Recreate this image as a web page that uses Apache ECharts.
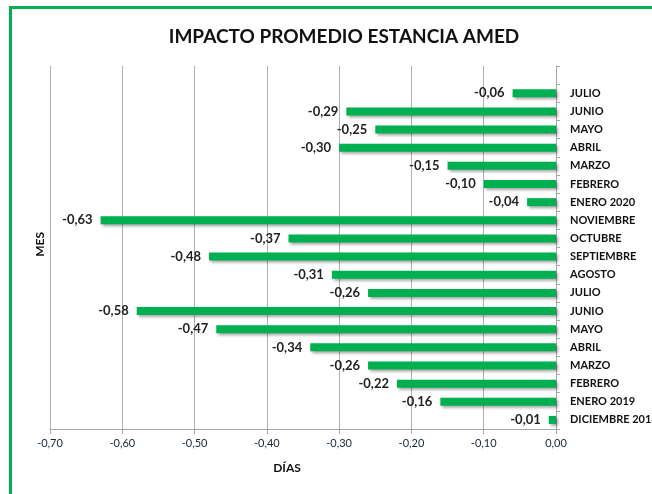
<!DOCTYPE html>
<html>
<head>
<meta charset="utf-8">
<script src="https://cdn.jsdelivr.net/npm/echarts@6/dist/echarts.min.js"></script>
<style>
  html, body { margin: 0; padding: 0; background: #fff; }
  #chart { width: 652px; height: 494px; }
</style>
</head>
<body>
<div id="chart"></div>
<script>
// meses, de arriba hacia abajo (la primera fila va vacía, como en la hoja)
var meses = ['', 'JULIO', 'JUNIO', 'MAYO', 'ABRIL', 'MARZO', 'FEBRERO', 'ENERO 2020',
  'NOVIEMBRE', 'OCTUBRE', 'SEPTIEMBRE', 'AGOSTO', 'JULIO', 'JUNIO', 'MAYO',
  'ABRIL', 'MARZO', 'FEBRERO', 'ENERO 2019', 'DICIEMBRE 2018'];
var impacto = [null, -0.06, -0.29, -0.25, -0.30, -0.15, -0.10, -0.04,
  -0.63, -0.37, -0.48, -0.31, -0.26, -0.58, -0.47,
  -0.34, -0.26, -0.22, -0.16, -0.01];

var fmt = function (v) { return v.toFixed(2).replace('.', ','); };
var fontFam = 'Lato, "Open Sans", sans-serif';

var chart = echarts.init(document.getElementById('chart'));

var option = {
  backgroundColor: '#fff',
  animation: false,
  title: {
    text: 'IMPACTO PROMEDIO ESTANCIA AMED',
    left: 339,
    top: 22,
    textAlign: 'center',
    textStyle: { fontFamily: fontFam, fontSize: 19, fontWeight: 'bold', color: '#111' }
  },
  graphic: [{
    type: 'rect',
    shape: { x: 10.5, y: 7.5, width: 700, height: 600 },
    style: { fill: 'none', stroke: '#00b050', lineWidth: 3 }
  }, {
    type: 'text',
    left: 34,
    top: 232,
    rotation: Math.PI / 2,
    style: { text: 'MES', fontFamily: fontFam, fontSize: 12, fontWeight: 'bold', fill: '#111' }
  }],
  grid: { left: 50, right: 96, top: 66, bottom: 65, containLabel: false, outerBoundsMode: 'none' },
  xAxis: {
    type: 'value',
    min: -0.7,
    max: 0,
    interval: 0.1,
    name: 'DÍAS',
    nameLocation: 'middle',
    nameGap: 33,
    nameTextStyle: { fontFamily: fontFam, fontSize: 12, fontWeight: 'bold', color: '#111', padding: [0, 32, 0, 0] },
    axisLine: { show: true, lineStyle: { color: '#a6a6a6' } },
    axisTick: { show: true, length: 5, lineStyle: { color: '#a6a6a6' } },
    axisLabel: { formatter: fmt, fontFamily: fontFam, fontSize: 11, color: '#1a2535', margin: 9 },
    splitLine: { show: true, lineStyle: { color: '#b0b0b0', width: 1 } }
  },
  yAxis: {
    type: 'category',
    data: meses,
    inverse: true,
    position: 'right',
    axisLine: { show: true, lineStyle: { color: '#a6a6a6' } },
    axisTick: { show: true, length: 4, lineStyle: { color: '#a6a6a6' } },
    axisLabel: { fontFamily: fontFam, fontSize: 11, fontWeight: 'bold', color: '#111', margin: 14 },
    splitLine: { show: false }
  },
  series: [{
    type: 'bar',
    data: impacto,
    barWidth: 8,
    itemStyle: {
      color: '#00b050',
      shadowColor: 'rgba(0,0,0,0.35)',
      shadowBlur: 3,
      shadowOffsetX: 2,
      shadowOffsetY: 2
    },
    label: {
      show: true,
      position: 'left',
      distance: 8,
      formatter: function (p) { return fmt(p.value); },
      fontFamily: fontFam,
      fontSize: 13,
      fontWeight: 'bold',
      color: '#222'
    }
  }]
};

chart.setOption(option);
</script>
</body>
</html>
